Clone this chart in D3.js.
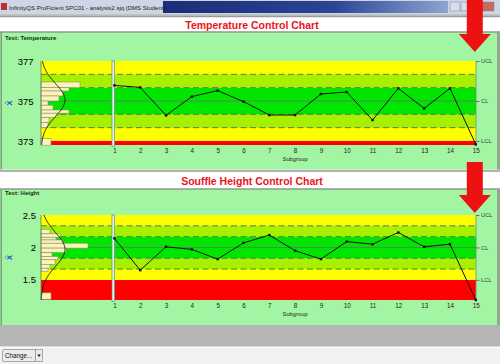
<!DOCTYPE html>
<html>
<head>
<meta charset="utf-8">
<script src="https://cdn.jsdelivr.net/npm/d3@7/dist/d3.min.js"></script>
<style>
  body { margin: 0; background: #fff; }
  svg { display: block; font-family: 'Liberation Sans', Arial, sans-serif; }
</style>
</head>
<body>
<svg id="chart" width="500" height="364"></svg>
<script>
// subgroup means
var subgroups = [1, 2, 3, 4, 5, 6, 7, 8, 9, 10, 11, 12, 13, 14, 15];
var tempValues = [375.78, 375.68, 374.28, 375.22, 375.52, 374.97, 374.30, 374.30, 375.35, 375.45, 374.05, 375.63, 374.63, 375.63, 372.83];
var heightValues = [2.14, 1.65, 2.01, 1.97, 1.82, 2.07, 2.19, 1.95, 1.82, 2.09, 2.05, 2.23, 2.01, 2.05, 1.19];

// axis ticks and control limits (UCL, CL, LCL)
var tempTicks = [373, 375, 377];
var heightTicks = [1.5, 2, 2.5];
var limitNames = ['UCL', 'CL', 'LCL'];
var tempLimits = [377, 375, 373];
var heightLimits = [2.5, 2, 1.5];

// histogram bins on the left (low edge, high edge, relative frequency)
var tempBinLo = [375.67, 375.5, 375.25, 375.0, 374.79, 374.55, 374.39, 374.17, 373.92, 373.67, 372.79];
var tempBinHi = [375.95, 375.67, 375.5, 375.25, 375.0, 374.79, 374.55, 374.39, 374.17, 373.92, 373.12];
var tempBinFreq = [39, 28, 22, 18, 7, 12, 28, 16, 8, 7, 10];
var heightBinLo = [2.21, 2.157, 2.115, 2.065, 1.99, 1.92, 1.86, 1.81, 1.74, 1.68, 1.63, 1.20];
var heightBinHi = [2.28, 2.21, 2.157, 2.115, 2.065, 1.99, 1.92, 1.86, 1.81, 1.74, 1.68, 1.30];
var heightBinFreq = [9, 19, 15, 22, 47, 25, 11, 17, 14, 9, 7, 10];

// normal curve fit drawn over the histogram
var tempFit = [375.05, 0.82];
var heightFit = [1.97, 0.26];

var svg = d3.select('#chart');

// ---- window chrome ----
var grad = svg.append('defs').append('linearGradient').attr('id', 'tb');
grad.append('stop').attr('offset', '0%').attr('stop-color', '#1b2d78');
grad.append('stop').attr('offset', '60%').attr('stop-color', '#2a4596');
grad.append('stop').attr('offset', '100%').attr('stop-color', '#8ea4d2');

svg.append('rect').attr('x', 0).attr('y', 0).attr('width', 500).attr('height', 364).attr('fill', '#f2f2f2');
svg.append('rect').attr('x', 0).attr('y', 0).attr('width', 500).attr('height', 14).attr('fill', '#cdd6e4');
svg.append('rect').attr('x', 163).attr('y', 1).attr('width', 285).attr('height', 12).attr('fill', 'url(#tb)');
svg.append('rect').attr('x', 1).attr('y', 3).attr('width', 6).attr('height', 7).attr('fill', '#c0302a');
svg.append('text').attr('x', 9).attr('y', 9.5).attr('font-size', 6).attr('fill', '#1a1a1a')
  .text('InfinityQS ProFicient SPC01 - analysis2.sjq (DMS Student)');
[450, 461, 472].forEach(function(bx, i) {
  svg.append('rect').attr('x', bx).attr('y', 2).attr('width', i == 2 ? 22 : 10).attr('height', 9)
    .attr('fill', i == 2 ? '#c86a5a' : '#d8dde8').attr('stroke', '#7a8aa8').attr('stroke-width', 0.5);
});
svg.append('rect').attr('x', 0).attr('y', 14).attr('width', 500).attr('height', 3).attr('fill', '#c4c4c4');

// gray area under the second chart and the button strip
svg.append('rect').attr('x', 0).attr('y', 325).attr('width', 500).attr('height', 22).attr('fill', '#b5b5b5');
svg.append('line').attr('x1', 0).attr('x2', 500).attr('y1', 347).attr('y2', 347).attr('stroke', '#fff');
svg.append('rect').attr('x', 2.5).attr('y', 349.5).attr('width', 33).attr('height', 12).attr('rx', 1.5)
  .attr('fill', '#ebebeb').attr('stroke', '#8c8c8c').attr('stroke-width', 0.7);
svg.append('text').attr('x', 5).attr('y', 358).attr('font-size', 6.3).attr('fill', '#111').text('Change...');
svg.append('rect').attr('x', 35.5).attr('y', 349.5).attr('width', 7).attr('height', 12)
  .attr('fill', '#ebebeb').attr('stroke', '#8c8c8c').attr('stroke-width', 0.7);
svg.append('path').attr('d', 'M37.3,354.5 L40.7,354.5 L39,357 Z').attr('fill', '#111');

var x = d3.scalePoint().domain(subgroups).range([114.4, 475.8]);
var plotLeft = 41, sepX = 112, plotRight = 476;

function drawChart(cfg) {
  var g = svg.append('g');

  // title strip
  g.append('rect').attr('x', 0).attr('y', cfg.stripTop).attr('width', 500).attr('height', cfg.stripBottom - cfg.stripTop)
    .attr('fill', '#fff');
  g.append('line').attr('x1', 0).attr('x2', 500).attr('y1', cfg.stripTop).attr('y2', cfg.stripTop)
    .attr('stroke', '#9a9a9a').attr('stroke-width', 1.5);
  g.append('text').attr('x', 252).attr('y', cfg.titleY).attr('text-anchor', 'middle')
    .attr('font-size', 10.5).attr('font-weight', 'bold').attr('fill', '#e8141c').text(cfg.title);

  // green panel
  g.append('rect').attr('x', 0).attr('y', cfg.stripBottom).attr('width', 500).attr('height', cfg.panelBottom - cfg.stripBottom)
    .attr('fill', '#a2f5a2');
  g.append('line').attr('x1', 0).attr('x2', 500).attr('y1', cfg.stripBottom).attr('y2', cfg.stripBottom)
    .attr('stroke', '#8c9a8c').attr('stroke-width', 1.5);
  g.append('rect').attr('x', 0.5).attr('y', cfg.stripBottom).attr('width', 1.5).attr('height', cfg.panelBottom - cfg.stripBottom)
    .attr('fill', '#7f9f7f');
  g.append('rect').attr('x', 497).attr('y', cfg.stripBottom).attr('width', 3).attr('height', cfg.panelBottom - cfg.stripBottom)
    .attr('fill', '#8fa88f');
  g.append('text').attr('x', 5).attr('y', cfg.testY).attr('font-size', 6).attr('font-weight', 'bold')
    .attr('fill', '#143014').text(cfg.test);

  var y = d3.scaleLinear().domain(cfg.domain).range([cfg.plotBottom, cfg.plotTop]);
  var ucl = cfg.limits[0], cl = cfg.limits[1], lcl = cfg.limits[2];
  var s = (ucl - cl) / 3;

  // zone bands
  var zones = [
    [cfg.domain[0], lcl, '#ff0000'],
    [lcl, cl - 2 * s, '#ffff00'],
    [cl - 2 * s, cl - s, '#a6f000'],
    [cl - s, cl + s, '#00e600'],
    [cl + s, ucl - s, '#a6f000'],
    [ucl - s, ucl, '#ffff00']
  ];
  g.selectAll('rect.zone').data(zones).enter().append('rect').classed('zone', true)
    .attr('x', plotLeft).attr('width', plotRight - plotLeft)
    .attr('y', function(d) { return y(d[1]); })
    .attr('height', function(d) { return y(d[0]) - y(d[1]); })
    .attr('fill', function(d) { return d[2]; });

  // zone boundaries: dashed, centre line solid
  g.selectAll('line.zl').data([ucl - s, ucl - 2 * s, cl - s, cl - 2 * s]).enter().append('line').classed('zl', true)
    .attr('x1', plotLeft).attr('x2', plotRight)
    .attr('y1', function(d) { return y(d); }).attr('y2', function(d) { return y(d); })
    .attr('stroke', '#5f7a55').attr('stroke-width', 1).attr('stroke-dasharray', '6,3.5');
  g.append('line').attr('x1', plotLeft).attr('x2', plotRight).attr('y1', y(cl)).attr('y2', y(cl))
    .attr('stroke', '#4f8a5a').attr('stroke-width', 1);

  // histogram
  var hx = d3.scaleLinear().domain([0, 40]).range([plotLeft, plotLeft + 40]);
  var bins = cfg.binLo.map(function(lo, i) { return [lo, cfg.binHi[i], cfg.binFreq[i]]; });
  g.selectAll('rect.bin').data(bins).enter().append('rect').classed('bin', true)
    .attr('x', plotLeft)
    .attr('y', function(d) { return y(d[1]); })
    .attr('width', function(d) { return hx(d[2]) - plotLeft; })
    .attr('height', function(d) { return y(d[0]) - y(d[1]); })
    .attr('fill', '#fbf4b8').attr('stroke', '#8f8f72').attr('stroke-width', 0.6);

  // fitted normal curve, peak scaled to the histogram
  var mu = cfg.fit[0], sd = cfg.fit[1];
  var steps = d3.range(0, 121).map(function(i) { return cfg.domain[0] + (cfg.domain[1] - cfg.domain[0]) * i / 120; });
  var curve = d3.line()
    .x(function(v) { return hx(24 * Math.exp(-(v - mu) * (v - mu) / (2 * sd * sd))); })
    .y(function(v) { return y(v); });
  g.append('path').attr('d', curve(steps)).attr('fill', 'none').attr('stroke', '#111').attr('stroke-width', 0.9);

  // plot edges and histogram separator
  g.append('line').attr('x1', plotLeft).attr('x2', plotLeft).attr('y1', cfg.plotTop).attr('y2', cfg.plotBottom)
    .attr('stroke', '#5f7f5f').attr('stroke-width', 0.8);
  g.append('line').attr('x1', plotRight).attr('x2', plotRight).attr('y1', cfg.plotTop).attr('y2', cfg.plotBottom)
    .attr('stroke', '#6f8f6f').attr('stroke-width', 0.8);
  g.append('rect').attr('x', sepX).attr('y', cfg.plotTop).attr('width', 2.6).attr('height', cfg.plotBottom - cfg.plotTop + 1.5)
    .attr('fill', '#e2f6ea').attr('stroke', '#5b8c7a').attr('stroke-width', 0.7);

  // y axis
  var yAxis = d3.axisLeft(y).tickValues(cfg.ticks).tickSize(0).tickPadding(cfg.pad)
    .tickFormat(function(d) { return String(d); });
  var ya = g.append('g').attr('transform', 'translate(' + plotLeft + ',0)').call(yAxis);
  ya.select('.domain').remove();
  ya.selectAll('text').attr('font-size', 9.5).attr('font-family', 'Liberation Sans, Arial, sans-serif').attr('fill', '#000');
  g.append('text').attr('transform', 'translate(12,' + ((cfg.plotTop + cfg.plotBottom) / 2) + ') rotate(-90)')
    .attr('text-anchor', 'middle').attr('font-size', 7.5).attr('font-weight', 'bold').attr('fill', '#2a4cc8').text('X\u0304');

  // x axis
  var xAxis = d3.axisBottom(x).tickSize(0).tickPadding(4);
  var xa = g.append('g').attr('transform', 'translate(0,' + cfg.plotBottom + ')').call(xAxis);
  xa.select('.domain').remove();
  xa.selectAll('text').attr('font-size', 6.3).attr('font-family', 'Liberation Sans, Arial, sans-serif').attr('fill', '#222');
  g.append('text').attr('x', (x(1) + x(15)) / 2).attr('y', cfg.plotBottom + 16).attr('text-anchor', 'middle')
    .attr('font-size', 5.8).attr('fill', '#222').text('Subgroup');

  // right axis with limit names
  var ra = g.append('g').attr('transform', 'translate(' + plotRight + ',0)')
    .call(d3.axisRight(y).tickValues(cfg.limits).tickSize(3.5).tickPadding(1.5)
      .tickFormat(function(d, i) { return limitNames[i]; }));
  ra.select('.domain').remove();
  ra.selectAll('line').attr('stroke', '#5f7f5f');
  ra.selectAll('text').attr('font-size', 5.8).attr('font-family', 'Liberation Sans, Arial, sans-serif').attr('fill', '#3a3a3a');

  // the data line with small square markers
  var line = d3.line().x(function(d, i) { return x(subgroups[i]); }).y(function(d) { return y(d); });
  g.append('path').attr('d', line(cfg.values)).attr('fill', 'none').attr('stroke', '#111').attr('stroke-width', 1);
  g.selectAll('rect.pt').data(cfg.values).enter().append('rect').classed('pt', true)
    .attr('x', function(d, i) { return x(subgroups[i]) - 1.2; })
    .attr('y', function(d) { return y(d) - 1.2; })
    .attr('width', 2.4).attr('height', 2.4).attr('fill', '#111');

  // red arrow pointing at the last subgroup
  var ax = x(15) - 1;
  g.append('rect').attr('x', ax - 8).attr('y', cfg.arrowTop).attr('width', 16).attr('height', cfg.arrowTip - 18 - cfg.arrowTop)
    .attr('fill', '#ee1111');
  g.append('path').attr('d', 'M' + (ax - 16) + ',' + (cfg.arrowTip - 18) + ' L' + (ax + 16) + ',' + (cfg.arrowTip - 18) +
    ' L' + ax + ',' + cfg.arrowTip + ' Z').attr('fill', '#ee1111');
}

drawChart({
  title: 'Temperature Control Chart', test: 'Test: Temperature',
  stripTop: 16.5, stripBottom: 32, panelBottom: 169.5, titleY: 29.3, testY: 39.5,
  plotTop: 61, plotBottom: 145, domain: [372.8, 377], pad: 7.5,
  ticks: tempTicks, limits: tempLimits, values: tempValues,
  binLo: tempBinLo, binHi: tempBinHi, binFreq: tempBinFreq, fit: tempFit,
  arrowTop: 0, arrowTip: 52
});
drawChart({
  title: 'Souffle Height Control Chart', test: 'Test: Height',
  stripTop: 171, stripBottom: 189, panelBottom: 325, titleY: 185, testY: 194.5,
  plotTop: 215, plotBottom: 300, domain: [1.19, 2.5], pad: 5,
  ticks: heightTicks, limits: heightLimits, values: heightValues,
  binLo: heightBinLo, binHi: heightBinHi, binFreq: heightBinFreq, fit: heightFit,
  arrowTop: 162, arrowTip: 213
});
</script>
</body>
</html>
